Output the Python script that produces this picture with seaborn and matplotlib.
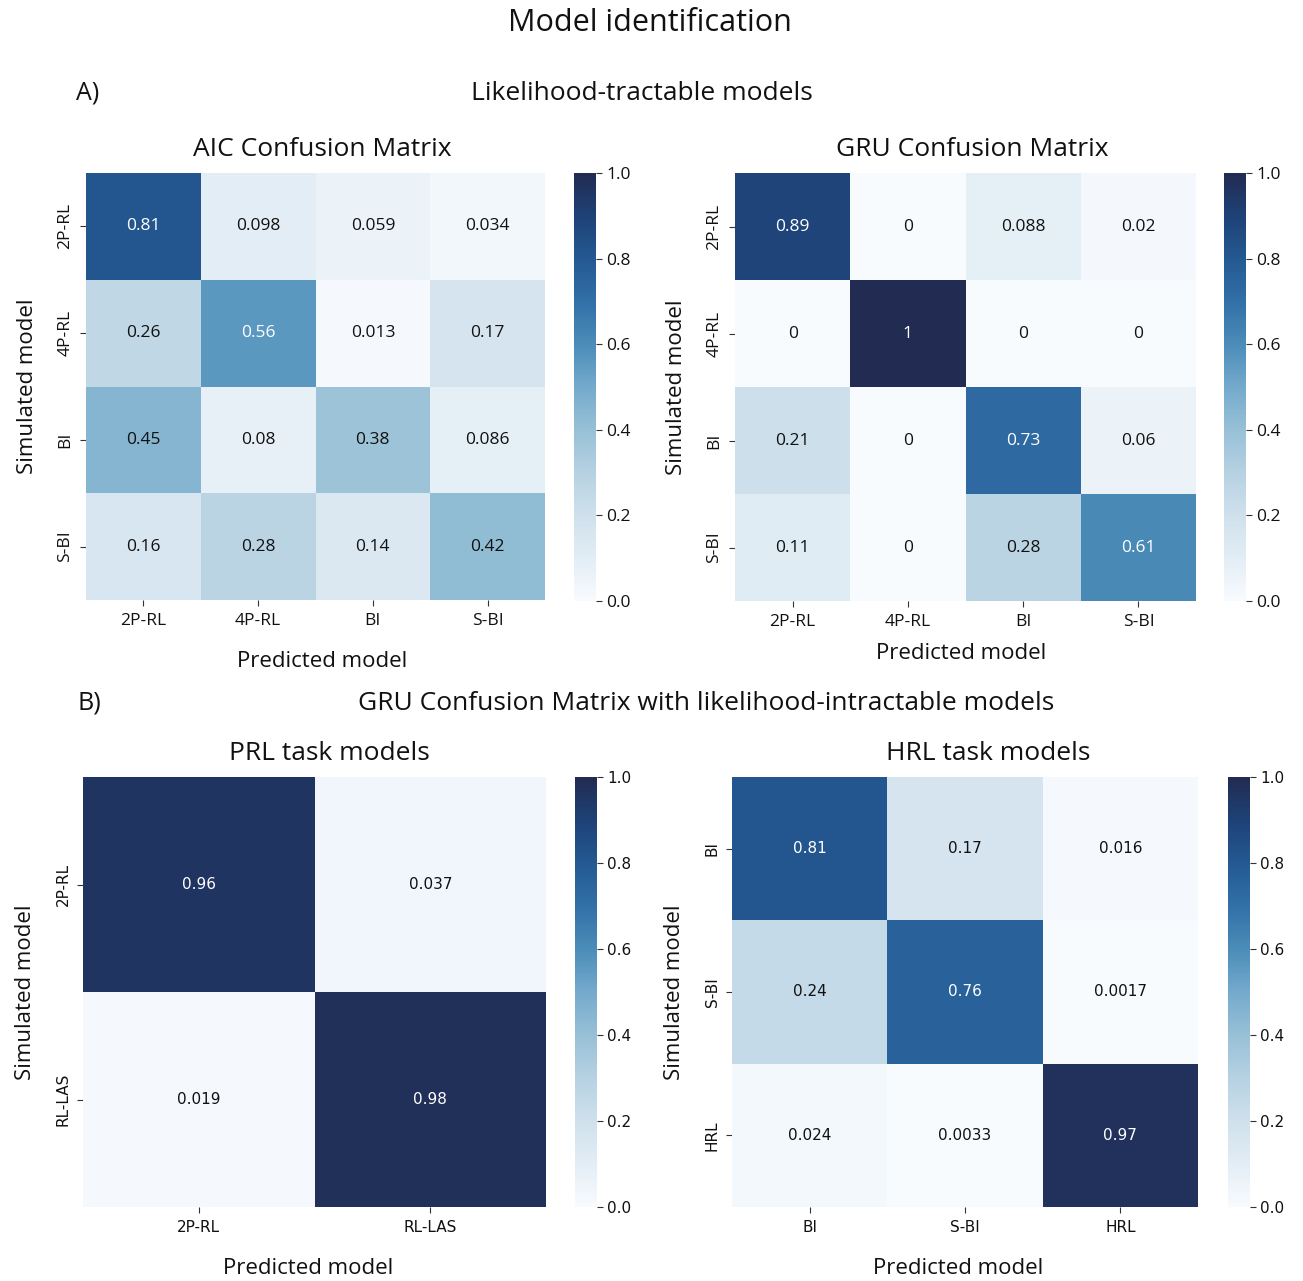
import numpy as np
import pandas as pd
import matplotlib
matplotlib.use('Agg')
import matplotlib.pyplot as plt
import seaborn as sns
from matplotlib.colors import LinearSegmentedColormap

# 混淆矩阵数据
tract_models = ['2P-RL', '4P-RL', 'BI', 'S-BI']
aic_values = [[0.81, 0.098, 0.059, 0.034],
              [0.26, 0.56, 0.013, 0.17],
              [0.45, 0.08, 0.38, 0.086],
              [0.16, 0.28, 0.14, 0.42]]
gru_values = [[0.89, 0, 0.088, 0.02],
              [0, 1, 0, 0],
              [0.21, 0, 0.73, 0.06],
              [0.11, 0, 0.28, 0.61]]

prl_models = ['2P-RL', 'RL-LAS']
prl_values = [[0.96, 0.037],
              [0.019, 0.98]]

hrl_models = ['BI', 'S-BI', 'HRL']
hrl_values = [[0.81, 0.17, 0.016],
              [0.24, 0.76, 0.0017],
              [0.024, 0.0033, 0.97]]

sns.set_theme(style='white')
plt.rcParams['font.family'] = ['Open Sans', 'DejaVu Sans']
plt.rcParams['text.color'] = '#111111'
plt.rcParams['axes.labelcolor'] = '#111111'
plt.rcParams['xtick.color'] = '#111111'
plt.rcParams['ytick.color'] = '#111111'

# 颜色映射（偏暗的 Blues）
cmap = LinearSegmentedColormap.from_list('blues_navy', [
    '#f8fbfe', '#e2edf5', '#cfe0ec', '#b6d1e2', '#97c0d6', '#74aacd',
    '#4b8cb8', '#3270a8', '#245992', '#1e4277', '#222b52'])

W, H = 1303, 1281
fig = plt.figure(figsize=(W / 100, H / 100), dpi=100)


def box(x0, y0, x1, y1):
    return [x0 / W, 1 - y1 / H, (x1 - x0) / W, (y1 - y0) / H]


def draw(values, labels, hm_box, cb_box, title, font, annot_size, tick_size,
         xlpad, title_x, xlabel_x):
    ax = fig.add_axes(box(*hm_box))
    cax = fig.add_axes(box(*cb_box))
    df = pd.DataFrame(values, index=labels, columns=labels)
    sns.heatmap(df, ax=ax, cbar_ax=cax, cmap=cmap, vmin=0, vmax=1, annot=True,
                annot_kws={'fontsize': annot_size, 'family': font})
    # 数值文字颜色：深色格子用白字
    flat = np.array(values).ravel()
    for t, v in zip(ax.texts, flat):
        t.set_color('white' if v > 0.5 else '#111111')
    ax.set_title(title, fontsize=19, pad=12, x=title_x)
    ax.set_xlabel('Predicted model', fontsize=16, labelpad=xlpad)
    ax.xaxis.label.set_x(xlabel_x)
    ax.set_ylabel('Simulated model', fontsize=16, labelpad=14)
    ax.tick_params(left=True, bottom=True, length=4, width=0.8, color='#333333', pad=5)
    for t in ax.get_xticklabels() + ax.get_yticklabels():
        t.set_fontsize(tick_size)
        t.set_family(font)
    ax.set_yticklabels(labels, rotation=90, va='center')
    cax.tick_params(labelsize=tick_size, length=4, width=0.8, right=True, color='#333333')
    cax.set_yticks([0, 0.2, 0.4, 0.6, 0.8, 1.0])
    cax.set_yticklabels(['0.0', '0.2', '0.4', '0.6', '0.8', '1.0'], family=font, fontsize=tick_size)
    return ax


draw(aic_values, tract_models, (86, 173, 545, 600), (574, 173, 596, 601),
     'AIC Confusion Matrix', ['Open Sans'], 12.5, 12.5, 16, 0.514, 0.514)
draw(gru_values, tract_models, (735, 173, 1196, 601), (1224, 173, 1246, 601),
     'GRU Confusion Matrix', ['Open Sans'], 12.5, 12.5, 10, 0.514, 0.49)
draw(prl_values, prl_models, (83, 777, 546, 1207), (575, 777, 597, 1207),
     'PRL task models', ['DejaVu Sans'], 11, 11, 17, 0.533, 0.486)
draw(hrl_values, hrl_models, (732, 777, 1198, 1207), (1228, 777, 1250, 1207),
     'HRL task models', ['DejaVu Sans'], 11, 11, 17, 0.549, 0.485)

fig.text(650 / W, 1 - 23 / H, 'Model identification', ha='center', va='center', fontsize=22)
fig.text(76 / W, 1 - 93 / H, 'A)', ha='left', va='center', fontsize=18)
fig.text(642 / W, 1 - 93 / H, 'Likelihood-tractable models', ha='center', va='center', fontsize=19)
fig.text(78 / W, 1 - 703 / H, 'B)', ha='left', va='center', fontsize=18)
fig.text(706 / W, 1 - 703 / H, 'GRU Confusion Matrix with likelihood-intractable models',
         ha='center', va='center', fontsize=19)

fig.savefig('out.png', dpi=100)
